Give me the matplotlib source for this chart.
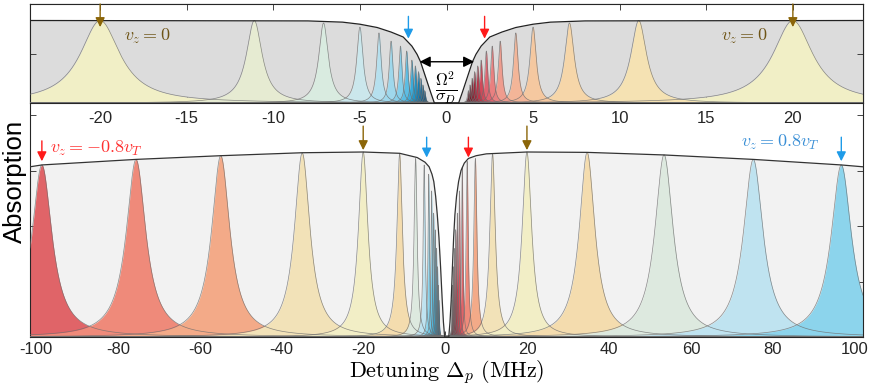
import numpy as np
import matplotlib.pyplot as plt

plt.rcParams["font.family"] = "Liberation Sans"
plt.rcParams["mathtext.fontset"] = "cm"
plt.rcParams["axes.unicode_minus"] = False
plt.rcParams["xtick.direction"] = "in"
plt.rcParams["ytick.direction"] = "in"
plt.rcParams["xtick.labelsize"] = 12
plt.rcParams["ytick.labelsize"] = 12
plt.rcParams["axes.linewidth"] = 0.8
plt.rcParams["axes.edgecolor"] = "#262626"

# ---------------- main panel data (wide detuning scan) ----------------
# velocity classes v_z / v_T and their two Autler-Townes peaks
vel_main = [-0.8, -0.6, -0.4, -0.2, 0.0, 0.2, 0.4, 0.6, 0.8]
outer_pos = [-98.6, -75.6, -54.9, -35.0, -20.1, 34.6, 53.4, 75.2, 96.7]
outer_h = [0.93, 0.96, 0.98, 0.995, 1.0, 0.998, 0.985, 0.96, 0.93]
outer_w = [3.0, 2.9, 2.7, 2.3, 1.4, 2.3, 2.7, 2.9, 3.0]
inner_pos = [4.1, 5.3, 7.3, 11.5, 19.9, -11.2, -7.3, -5.2, -4.1]
inner_h = [0.92, 0.95, 0.965, 0.99, 1.0, 0.99, 0.965, 0.93, 0.88]
inner_w = [0.2, 0.3, 0.45, 0.8, 1.4, 0.8, 0.45, 0.3, 0.2]
main_colors = ["#e06468", "#ef8a7a", "#f3aa88", "#f2e2b8", "#f2eec6",
               "#f4dcae", "#dde9df", "#bfe3f0", "#8cd4ec"]

# faster classes, only the narrow inner peaks are inside the window
fast_blue_pos = [-3.4, -2.9, -2.5, -2.2, -1.95, -1.75, -1.6]
fast_red_pos = [3.4, 2.9, 2.5, 2.2, 1.95, 1.75, 1.6]
fast_h = [0.79, 0.67, 0.58, 0.48, 0.38, 0.28, 0.2]
fast_w = [0.18, 0.16, 0.15, 0.14, 0.13, 0.12, 0.11]
fast_blue_colors = ["#6cc6e6", "#4ab6dd", "#2ea5d3", "#1f93c4", "#1882b3", "#1572a2", "#136392"]
fast_red_colors = ["#d6525c", "#c8414e", "#b73444", "#a62a3b", "#952233", "#831c2c", "#721726"]

# envelope
main_env_x = [-101.5, -98.6, -75.6, -54.9, -35.0, -20.1, -11.2, -6.9, -5.0, -4.0, -3.3,
              -2.85, -2.4, -2.0, -1.6, -1.2, -0.8, -0.5, -0.2, 0.8, 1.1, 1.4, 1.7, 2.0,
              2.3, 2.7, 3.2, 3.8, 4.6, 5.6, 7.5, 10.0, 19.9, 34.6, 53.4, 75.2, 96.7, 102.0]
main_env_y = [0.92, 0.93, 0.96, 0.98, 0.996, 1.0, 0.993, 0.97, 0.945, 0.92, 0.88,
              0.84, 0.76, 0.66, 0.54, 0.38, 0.2, 0.08, 0.0, 0.0, 0.08, 0.2, 0.38, 0.54,
              0.66, 0.76, 0.84, 0.9, 0.94, 0.965, 0.98, 0.99, 1.0, 0.998, 0.984, 0.96, 0.93, 0.92]

# ---------------- top panel data (zoom on the centre) ----------------
top_blue_pos = [-20.0, -11.1, -7.1, -5.0, -3.9, -3.2, -2.66, -2.3, -2.0, -1.8, -1.62, -1.48, -1.36, -1.26]
top_red_pos = [20.0, 11.1, 7.1, 5.0, 4.0, 3.1, 2.64, 2.3, 2.0, 1.8, 1.62, 1.48, 1.36, 1.26]
top_h = [1.0, 1.0, 0.97, 0.92, 0.85, 0.75, 0.69, 0.63, 0.52, 0.45, 0.38, 0.3, 0.22, 0.15]
top_w = [1.4, 0.55, 0.33, 0.22, 0.16, 0.13, 0.11, 0.1, 0.09, 0.08, 0.075, 0.07, 0.065, 0.06]
top_blue_colors = ["#f1efc6", "#e6ebd2", "#d9ebe0", "#cbe7ec", "#b6e0ee", "#9fd8ec", "#86cfea",
                   "#5cbde3", "#3aaad8", "#1f95c8", "#1580b5", "#116fa3", "#0f6192", "#0d5482"]
top_red_colors = ["#f1efc6", "#f5e2b3", "#f6d6a9", "#f5c8a0", "#f3b598", "#ef9c8e", "#e98080",
                  "#df6470", "#cf4a5a", "#bb3448", "#a2263a", "#8c1f31", "#781a2a", "#651523"]

top_env_x = [-24.05, -8.0, -6.0, -5.0, -4.0, -3.2, -2.5, -2.0, -1.7, -1.5, -1.2, -0.9, -0.7,
             0.7, 0.9, 1.2, 1.5, 1.7, 2.0, 2.5, 3.2, 4.0, 5.0, 6.0, 8.0, 24.05]
top_env_y = [1.0, 0.995, 0.98, 0.955, 0.915, 0.86, 0.8, 0.69, 0.59, 0.5, 0.31, 0.12, 0.0,
             0.0, 0.12, 0.31, 0.5, 0.59, 0.69, 0.8, 0.86, 0.915, 0.955, 0.98, 0.995, 1.0]


def lorentz(x, c, h, g):
    return h * g ** 2 / ((x - c) ** 2 + g ** 2)


def draw_peaks(ax, x, peaks):
    curves = []
    for c, h, g, col in peaks:
        y = lorentz(x, c, h, g)
        ax.fill_between(x, 0, y, color=col, lw=0, zorder=2)
        curves.append(y)
    for y in curves:
        ax.plot(x, y, color="#6e6e6e", lw=0.5, alpha=0.8, zorder=3)


fig = plt.figure(figsize=(8.71, 3.91), dpi=100)
ax = fig.add_axes([30 / 871, 54 / 391, 833 / 871, 333 / 391])
ax_top = fig.add_axes([30 / 871, 288 / 391, 833 / 871, 99 / 391])

# ---- main panel ----
xm = np.linspace(-101.5, 102, 12000)
ax.fill_between(main_env_x, 0, main_env_y, color="#f2f2f2", lw=0, zorder=1)
peaks = []
for i in range(len(vel_main)):
    peaks.append((outer_pos[i], outer_h[i], outer_w[i], main_colors[i]))
    peaks.append((inner_pos[i], inner_h[i], inner_w[i], main_colors[i]))
for i in range(len(fast_h)):
    peaks.append((fast_blue_pos[i], fast_h[i], fast_w[i], fast_blue_colors[i]))
    peaks.append((fast_red_pos[i], fast_h[i], fast_w[i], fast_red_colors[i]))
draw_peaks(ax, xm, peaks)
ax.plot(main_env_x, main_env_y, color="#333333", lw=0.9, zorder=4)

ax.set_xlim(-101.5, 102)
ax.set_ylim(0, 1.8)
ax.set_xticks(range(-100, 101, 20))
ax.set_yticks([0, 0.3, 0.6, 0.9, 1.2, 1.5])
ax.set_yticklabels([])
ax.tick_params(top=True, right=True, length=4, width=0.6, colors="#262626")
ax.set_xlabel(r"$\mathrm{Detuning}\ \Delta_p\ \mathrm{(MHz)}$", fontsize=16, labelpad=1)
fig.text(15 / 871, 0.537, "Absorption", fontsize=18.5, rotation=90, ha="center", va="center")

arrow = dict(arrowstyle="-|>", lw=1.0, mutation_scale=14, shrinkA=0, shrinkB=0)
ax.annotate("", xy=(-98.6, 0.95), xytext=(-98.6, 1.06), arrowprops=dict(arrow, color="#ff1a1a"), zorder=6)
ax.annotate("", xy=(-20.1, 1.01), xytext=(-20.1, 1.14), arrowprops=dict(arrow, color="#8b6508"), zorder=6)
ax.annotate("", xy=(19.9, 1.01), xytext=(19.9, 1.14), arrowprops=dict(arrow, color="#8b6508"), zorder=6)
ax.annotate("", xy=(-4.6, 0.97), xytext=(-4.6, 1.08), arrowprops=dict(arrow, color="#1e9be8"), zorder=6)
ax.annotate("", xy=(5.6, 0.97), xytext=(5.6, 1.08), arrowprops=dict(arrow, color="#ff1a1a"), zorder=6)
ax.annotate("", xy=(96.7, 0.95), xytext=(96.7, 1.08), arrowprops=dict(arrow, color="#1e9be8"), zorder=6)
ax.text(-96.5, 1.02, r"$v_z=-0.8v_T$", color="#ff3030", fontsize=13, va="center")
ax.text(91.5, 1.05, r"$v_z=0.8v_T$", color="#3a8fd6", fontsize=13, va="center", ha="right")

# ---- top panel ----
xt = np.linspace(-24.05, 24.05, 12000)
ax_top.fill_between(top_env_x, 0, top_env_y, color="#dcdcdc", lw=0, zorder=1)
peaks = []
for i in range(len(top_h)):
    peaks.append((top_blue_pos[i], top_h[i], top_w[i], top_blue_colors[i]))
    peaks.append((top_red_pos[i], top_h[i], top_w[i], top_red_colors[i]))
draw_peaks(ax_top, xt, peaks)
ax_top.plot(top_env_x, top_env_y, color="#222222", lw=0.9, zorder=4)

ax_top.set_xlim(-24.05, 24.05)
ax_top.set_ylim(0, 1.18)
ax_top.set_xticks(range(-20, 21, 5))
ax_top.set_yticks([0, 0.6, 1.2])
ax_top.set_yticklabels([])
ax_top.tick_params(top=True, right=True, length=4, width=0.6, colors="#262626", pad=6)

ax_top.annotate("", xy=(-20.0, 0.92), xytext=(-20.0, 1.2), arrowprops=dict(arrow, color="#8b6508"), zorder=6)
ax_top.annotate("", xy=(20.0, 0.92), xytext=(20.0, 1.2), arrowprops=dict(arrow, color="#8b6508"), zorder=6)
ax_top.annotate("", xy=(-2.2, 0.78), xytext=(-2.2, 1.05), arrowprops=dict(arrow, color="#1e9be8"), zorder=6)
ax_top.annotate("", xy=(2.2, 0.78), xytext=(2.2, 1.05), arrowprops=dict(arrow, color="#ff1a1a"), zorder=6)
ax_top.annotate("", xy=(-1.55, 0.5), xytext=(1.6, 0.5),
                arrowprops=dict(arrowstyle="<|-|>", lw=1.0, color="black", mutation_scale=16,
                                shrinkA=0, shrinkB=0), zorder=6)
ax_top.text(0.0, 0.19, r"$\frac{\Omega^2}{\sigma_D}$", fontsize=17, ha="center", va="center", zorder=6)
ax_top.text(-17.3, 0.81, r"$v_z=0$", color="#6e5416", fontsize=13, ha="center", va="center")
ax_top.text(17.2, 0.81, r"$v_z=0$", color="#6e5416", fontsize=13, ha="center", va="center")

fig.savefig("out.png", dpi=100)
